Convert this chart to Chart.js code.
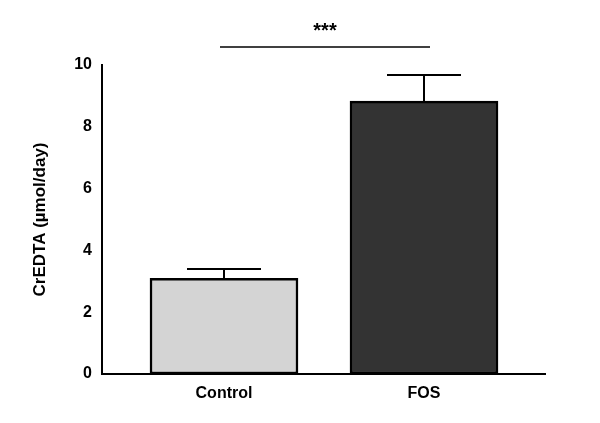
<!DOCTYPE html>
<html><head><meta charset="utf-8">
<script src="https://cdn.jsdelivr.net/npm/chart.js@4"></script>
<style>html,body{margin:0;background:#fff}#w{width:600px;height:423px}</style>
</head><body><div id="w"><canvas id="c"></canvas></div>
<script>
const categories = ['Control', 'FOS'];
const means = [3.1, 8.83];
const errors = [0.3, 0.85];
const yTicks = [0, 2, 4, 6, 8, 10];
const sigLabel = '***';
const barColors = ['#d4d4d4', '#333333'];

const F = '"Liberation Sans", Arial, sans-serif';
const extras = {
  id: 'extras',
  afterDatasetsDraw(chart) {
    const ctx = chart.ctx, x = chart.scales.x, y = chart.scales.y;
    ctx.save();
    ctx.strokeStyle = '#000'; ctx.lineWidth = 2;
    means.forEach((m, i) => {
      const cx = x.getPixelForValue(i);
      const yt = y.getPixelForValue(m), ye = y.getPixelForValue(m + errors[i]);
      ctx.beginPath(); ctx.moveTo(cx, yt); ctx.lineTo(cx, ye);
      ctx.moveTo(cx - 37, ye); ctx.lineTo(cx + 37, ye); ctx.stroke();
    });
    const ys = chart.chartArea.top - 18;
    const x0 = x.getPixelForValue(0) - 4, x1 = x.getPixelForValue(1) + 6;
    ctx.lineWidth = 1.5;
    ctx.beginPath(); ctx.moveTo(x0, ys); ctx.lineTo(x1, ys); ctx.stroke();
    ctx.fillStyle = '#000'; ctx.font = 'bold 20px ' + F;
    ctx.textAlign = 'center'; ctx.textBaseline = 'alphabetic';
    ctx.fillText(sigLabel, (x0 + x1) / 2, ys - 10);
    ctx.restore();
  }
};
new Chart(document.getElementById('c'), {
  type: 'bar',
  data: { datasets: [{
    data: means.map((v, i) => ({ x: i, y: v })),
    backgroundColor: barColors, borderColor: '#000', borderWidth: 2.5,
    barThickness: 148, borderSkipped: false
  }] },
  options: {
    responsive: true, maintainAspectRatio: false, animation: false,
    layout: { padding: { top: 65, right: 55, left: 0, bottom: 0 } },
    plugins: { legend: { display: false }, tooltip: { enabled: false } },
    scales: {
      x: {
        type: 'linear', min: -0.61, max: 1.605, offset: false,
        afterBuildTicks: s => { s.ticks = categories.map((c, i) => ({ value: i })); },
        afterFit: s => { s.height = 49; },
        ticks: { callback: v => categories[v], color: '#000', font: { family: F, size: 16, weight: 'bold' }, maxRotation: 0, padding: 4 },
        grid: { display: false, drawTicks: true, tickLength: 6, tickColor: '#000', tickWidth: 2 },
        border: { color: '#000', width: 2 }
      },
      y: {
        min: 0, max: 10,
        afterBuildTicks: s => { s.ticks = yTicks.map(v => ({ value: v })); },
        afterFit: s => { s.width = 102; },
        ticks: { color: '#000', font: { family: F, size: 16, weight: 'bold' }, padding: 3 },
        grid: { display: false, drawTicks: true, tickLength: 7, tickColor: '#000', tickWidth: 2 },
        border: { color: '#000', width: 2 },
        title: { display: true, text: 'CrEDTA (µmol/day)', color: '#000', font: { family: F, size: 17, weight: 'bold' }, padding: { top: 30, bottom: 2 } }
      }
    }
  },
  plugins: [extras]
});
</script></body></html>
